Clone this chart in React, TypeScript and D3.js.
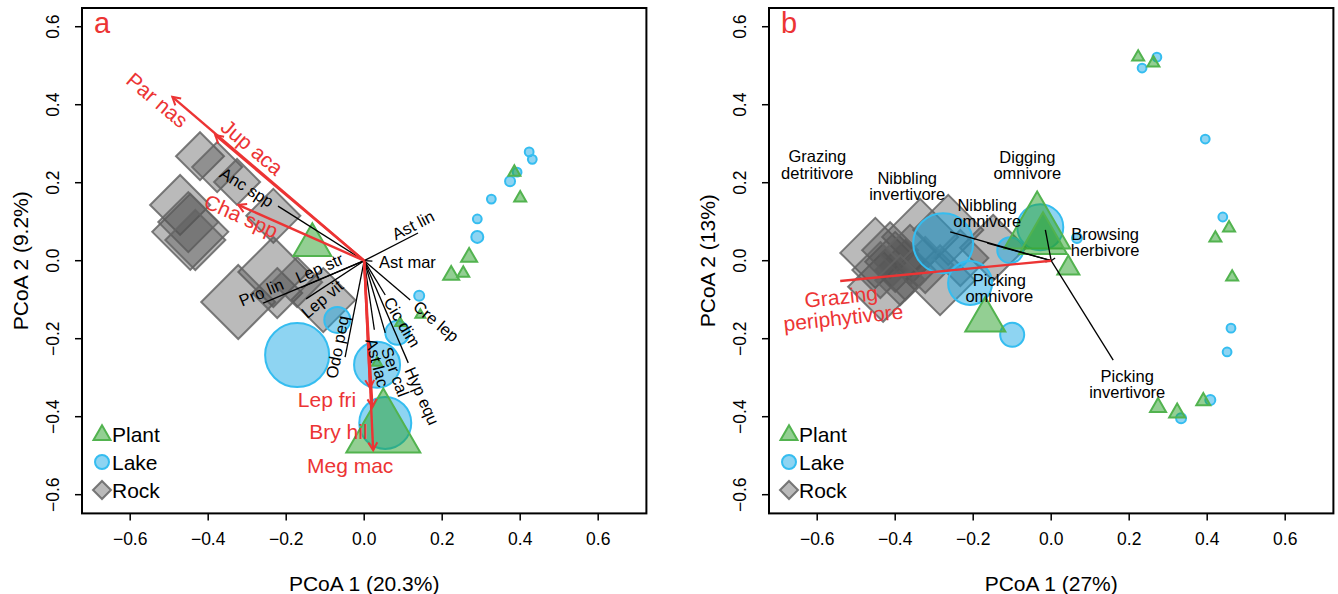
import React from "react";
import * as d3 from "d3";

const FONT = "'Liberation Sans', Arial, Helvetica, sans-serif";
const RED = "#ec3434";

// axis ticks shared by both panels
const TICKS = [-0.6, -0.4, -0.2, 0, 0.2, 0.4, 0.6];

// ---- panel a : species ----
const aPlantX = [0.385, 0.4, 0.269, 0.223, 0.254, 0.144, -0.133, 0.049, 0.033, 0.092];
const aPlantY = [0.227, 0.161, 0.009, -0.037, -0.032, -0.139, 0.04, -0.437, -0.262, -0.16];
const aPlantS = [1.5, 1.5, 2, 2, 1.5, 1.25, 4.75, 9.25, 1.25, 1.25];

const aLakeX = [0.423, 0.431, 0.392, 0.374, 0.326, 0.29, 0.29, 0.141, -0.172, -0.069, 0.033, 0.085, 0.054];
const aLakeY = [0.279, 0.26, 0.227, 0.204, 0.158, 0.107, 0.061, -0.09, -0.242, -0.152, -0.267, -0.185, -0.416];
const aLakeS = [1.1, 1.1, 1.1, 1.25, 1.1, 1.1, 1.5, 1.25, 8, 3.25, 5.75, 3, 6.5];

const aRockX = [-0.421, -0.377, -0.326, -0.233, -0.472, -0.446, -0.451, -0.433, -0.233, -0.323, -0.223, -0.105, -0.172];
const aRockY = [0.268, 0.24, 0.202, 0.115, 0.143, 0.074, 0.099, 0.053, -0.029, -0.106, -0.083, -0.101, -0.055];
const aRockS = [6, 6.25, 5.75, 6.75, 7.5, 9.5, 7.5, 7.5, 8.75, 9.25, 6.25, 8, 6.25];

const aRedNames = ["Par nas", "Jup aca", "Cha spp", "Lep fri", "Bry hil", "Meg mac"];
const aRedX = [-0.492, -0.382, -0.323, 0.015, 0.021, 0.023];
const aRedY = [0.42, 0.322, 0.143, -0.326, -0.375, -0.486];

const aBlackNames = ["Anc spp", "Ast lin", "Ast mar", "Lep str", "Pro lin", "Lep vit", "Odo peq", "Ast lac", "Ser cal", "Cic dim", "Hyp equ", "Cre lep"];
const aBlackX = [-0.221, 0.138, 0.021, -0.164, -0.259, -0.149, -0.049, 0.026, 0.054, 0.054, 0.113, 0.118];
const aBlackY = [0.14, 0.071, -0.001, -0.07, -0.109, -0.098, -0.247, -0.177, -0.185, -0.088, -0.262, -0.101];

// ---- panel b : functional groups ----
const bPlantX = [-0.036, -0.021, 0.044, -0.169, 0.223, 0.262, 0.456, 0.421, 0.464, 0.39, 0.274, 0.323];
const bPlantY = [0.08, 0.053, -0.019, -0.152, 0.522, 0.507, 0.084, 0.058, -0.042, -0.36, -0.376, -0.39];
const bPlantS = [8.25, 6, 2.75, 5, 1.5, 1.5, 1.5, 1.5, 1.5, 1.75, 2, 2];

const bLakeX = [-0.277, -0.028, -0.208, -0.105, -0.1, 0.066, 0.271, 0.233, 0.395, 0.44, 0.461, 0.451, 0.408, 0.333];
const bLakeY = [0.045, 0.086, -0.057, 0.027, -0.19, 0.058, 0.522, 0.494, 0.312, 0.112, -0.173, -0.234, -0.357, -0.404];
const bLakeS = [7.5, 5.75, 5.5, 3.25, 3, 1.25, 1.1, 1.1, 1.1, 1.1, 1.1, 1.1, 1.25, 1.25];

const bRockX = [-0.451, -0.431, -0.336, -0.264, -0.149, -0.285, -0.4, -0.374, -0.413, -0.362, -0.323, -0.438, -0.387, -0.233];
const bRockY = [0.02, -0.067, 0.061, 0.079, 0.033, -0.05, -0.003, -0.024, 0.027, 0.015, -0.011, -0.024, -0.05, 0.007];
const bRockS = [8.75, 8.75, 9.5, 8.75, 8.25, 8.75, 7.5, 7.5, 7, 7.5, 7, 7, 6.25, 7];

const bRedNames = ["Grazing periphytivore"];
const bRedX = [-0.541];
const bRedY = [-0.052];

const bBlackNames = ["Grazing detritivore", "Nibbling invertivore", "Nibbling omnivore", "Digging omnivore", "Browsing herbivore", "Picking omnivore", "Picking invertivore"];
const bBlackX = [-0.01, -0.164, -0.259, -0.015, 0.01, -0.015, 0.159];
const bBlackY = [0.003, 0.045, 0.074, 0.079, 0.007, -0.003, -0.255];

// label placement in px relative to vector tip: [dx, dy, rotation]
const labelPlace: Record<string, [number, number, number]> = {
  "Par nas": [-15, 3, 40],
  "Jup aca": [37, 12, 40],
  "Cha spp": [3, 11, 24],
  "Lep fri": [-43, 12, 0],
  "Bry hil": [-34, 25, 0],
  "Meg mac": [-23, 15, 0],
  "Anc spp": [-31, -19, 32],
  "Ast lin": [-5, -8, -27],
  "Ast mar": [35, 1, 0],
  "Lep str": [19, -20, -24],
  "Pro lin": [-2, -11, -23],
  "Lep vit": [16, 0, -40],
  "Odo peq": [-8, -10, -79],
  "Ast lac": [3, 33, 75],
  "Ser cal": [10, 39, 70],
  "Cic dim": [17, 27, 59],
  "Hyp equ": [14, 33, 66],
  "Cre lep": [26, 21, 40],
  "Grazing periphytivore": [2, 26, -6],
  "Grazing detritivore": [-230, -95, 0],
  "Nibbling invertivore": [-80, -57, 0],
  "Nibbling omnivore": [37, -19, 0],
  "Digging omnivore": [-18, -65, 0],
  "Browsing herbivore": [50, -16, 0],
  "Picking omnivore": [-46, 26, 0],
  "Picking invertivore": [14, 24, 0],
};

const TOP = 8;
const BOTTOM = 513.4;
const PW = 564.4;
const X_LIM = [-0.7236, 0.7236];
const Y_LIM = [-0.648, 0.648];
const sizePx = d3.scaleLinear().domain([0, 10]).range([0, 40]);

const STYLE = {
  plant: { fill: "rgba(40,160,40,0.5)", stroke: "#52b34f" },
  lake: { fill: "rgba(30,170,230,0.5)", stroke: "#35bdf0" },
  rock: { fill: "rgba(83,83,83,0.4)", stroke: "rgba(100,100,100,0.85)" },
};

const triPath = (cx: number, cy: number, w: number) => {
  const h = w * Math.sqrt(3);
  return `M${cx},${cy - (2 * h) / 3}L${cx + w},${cy + h / 3}L${cx - w},${cy + h / 3}Z`;
};
const diaPath = (cx: number, cy: number, d: number) =>
  `M${cx},${cy - d}L${cx + d},${cy}L${cx},${cy + d}L${cx - d},${cy}Z`;

function Panel(props: any) {
  const { left, letter, xTitle, yTitle, plant, lake, rock, red, black, redHead, wrap } = props;
  const x = d3.scaleLinear().domain(X_LIM).range([left, left + PW]);
  const y = d3.scaleLinear().domain(Y_LIM).range([BOTTOM, TOP]);
  const fmt = d3.format(".1f");

  const vecLabel = (name: string, vx: number, vy: number, color: string, size: number, key: string) => {
    const [dx, dy, rot] = labelPlace[name];
    const cx = x(vx) + dx;
    const cy = y(vy) + dy;
    const lines = wrap ? name.split(" ") : [name];
    const lh = size * 1.0;
    return (
      <text key={key} transform={`translate(${cx},${cy}) rotate(${rot})`} fill={color} fontSize={size} textAnchor="middle">
        {lines.map((l: string, i: number) => (
          <tspan key={i} x={0} y={(i - (lines.length - 1) / 2) * lh} dominantBaseline="central">
            {l}
          </tspan>
        ))}
      </text>
    );
  };

  const head = (vx: number, vy: number) => {
    const ex = x(vx), ey = y(vy);
    const a = Math.atan2(ey - y(0), ex - x(0));
    const L = 9;
    const p1 = [ex - L * Math.cos(a - Math.PI / 6), ey - L * Math.sin(a - Math.PI / 6)];
    const p2 = [ex - L * Math.cos(a + Math.PI / 6), ey - L * Math.sin(a + Math.PI / 6)];
    return `M${p1[0]},${p1[1]}L${ex},${ey}L${p2[0]},${p2[1]}`;
  };

  const legendY = [434, 462, 490];

  return (
    <g fontFamily={FONT}>
      {/* points */}
      {rock.x.map((v: number, i: number) => (
        <path key={"r" + i} d={diaPath(x(v), y(rock.y[i]), sizePx(rock.s[i]))} fill={STYLE.rock.fill} stroke={STYLE.rock.stroke} strokeWidth={2} />
      ))}
      {lake.x.map((v: number, i: number) => (
        <circle key={"l" + i} cx={x(v)} cy={y(lake.y[i])} r={sizePx(lake.s[i])} fill={STYLE.lake.fill} stroke={STYLE.lake.stroke} strokeWidth={2} />
      ))}
      {plant.x.map((v: number, i: number) => (
        <path key={"p" + i} d={triPath(x(v), y(plant.y[i]), sizePx(plant.s[i]))} fill={STYLE.plant.fill} stroke={STYLE.plant.stroke} strokeWidth={2} />
      ))}

      {/* black vectors */}
      {black.names.map((n: string, i: number) => (
        <line key={"bl" + i} x1={x(0)} y1={y(0)} x2={x(black.x[i])} y2={y(black.y[i])} stroke="#000" strokeWidth={1.3} />
      ))}
      {/* red vectors */}
      {red.names.map((n: string, i: number) => (
        <g key={"rl" + i}>
          <line x1={x(0)} y1={y(0)} x2={x(red.x[i])} y2={y(red.y[i])} stroke={RED} strokeWidth={2.4} />
          {redHead && <path d={head(red.x[i], red.y[i])} fill="none" stroke={RED} strokeWidth={2} />}
        </g>
      ))}
      {black.names.map((n: string, i: number) => vecLabel(n, black.x[i], black.y[i], "#000", 16.5, "bt" + i))}
      {red.names.map((n: string, i: number) => vecLabel(n, red.x[i], red.y[i], RED, 21, "rt" + i))}

      {/* frame */}
      <rect x={left} y={TOP} width={PW} height={BOTTOM - TOP} fill="none" stroke="#000" strokeWidth={2} />

      {/* x axis */}
      {TICKS.map((t) => (
        <g key={"xt" + t}>
          <line x1={x(t)} x2={x(t)} y1={BOTTOM} y2={BOTTOM + 7} stroke="#000" strokeWidth={1.5} />
          <text x={x(t)} y={539} textAnchor="middle" dominantBaseline="central" fontSize={17.5}>
            {fmt(t)}
          </text>
        </g>
      ))}
      {/* y axis */}
      {TICKS.map((t) => (
        <g key={"yt" + t}>
          <line x1={left - 7} x2={left} y1={y(t)} y2={y(t)} stroke="#000" strokeWidth={1.5} />
          <text transform={`translate(${left - 29},${y(t)}) rotate(-90)`} textAnchor="middle" dominantBaseline="central" fontSize={17.5}>
            {fmt(t)}
          </text>
        </g>
      ))}
      <text x={left + PW / 2} y={583} textAnchor="middle" dominantBaseline="central" fontSize={21}>
        {xTitle}
      </text>
      <text transform={`translate(${left - 62},${(TOP + BOTTOM) / 2}) rotate(-90)`} textAnchor="middle" dominantBaseline="central" fontSize={21}>
        {yTitle}
      </text>

      {/* panel letter */}
      <text x={left + 12} y={33} fill={RED} fontSize={29}>
        {letter}
      </text>

      {/* legend */}
      <path d={triPath(left + 20, legendY[0] + 1, 8.5)} fill={STYLE.plant.fill} stroke={STYLE.plant.stroke} strokeWidth={2} />
      <circle cx={left + 20} cy={legendY[1]} r={7} fill={STYLE.lake.fill} stroke={STYLE.lake.stroke} strokeWidth={2} />
      <path d={diaPath(left + 20, legendY[2], 9)} fill={STYLE.rock.fill} stroke={STYLE.rock.stroke} strokeWidth={2} />
      {["Plant", "Lake", "Rock"].map((t, i) => (
        <text key={t} x={left + 30} y={legendY[i]} dominantBaseline="central" fontSize={21}>
          {t}
        </text>
      ))}
    </g>
  );
}

export default function App() {
  return (
    <svg width={1338} height={594} style={{ position: "absolute", left: 0, top: 0, background: "#fff" }}>
      <Panel
        left={82}
        letter="a"
        xTitle="PCoA 1 (20.3%)"
        yTitle="PCoA 2 (9.2%)"
        plant={{ x: aPlantX, y: aPlantY, s: aPlantS }}
        lake={{ x: aLakeX, y: aLakeY, s: aLakeS }}
        rock={{ x: aRockX, y: aRockY, s: aRockS }}
        red={{ names: aRedNames, x: aRedX, y: aRedY }}
        black={{ names: aBlackNames, x: aBlackX, y: aBlackY }}
        redHead={true}
        wrap={false}
      />
      <Panel
        left={769}
        letter="b"
        xTitle="PCoA 1 (27%)"
        yTitle="PCoA 2 (13%)"
        plant={{ x: bPlantX, y: bPlantY, s: bPlantS }}
        lake={{ x: bLakeX, y: bLakeY, s: bLakeS }}
        rock={{ x: bRockX, y: bRockY, s: bRockS }}
        red={{ names: bRedNames, x: bRedX, y: bRedY }}
        black={{ names: bBlackNames, x: bBlackX, y: bBlackY }}
        redHead={false}
        wrap={true}
      />
    </svg>
  );
}
